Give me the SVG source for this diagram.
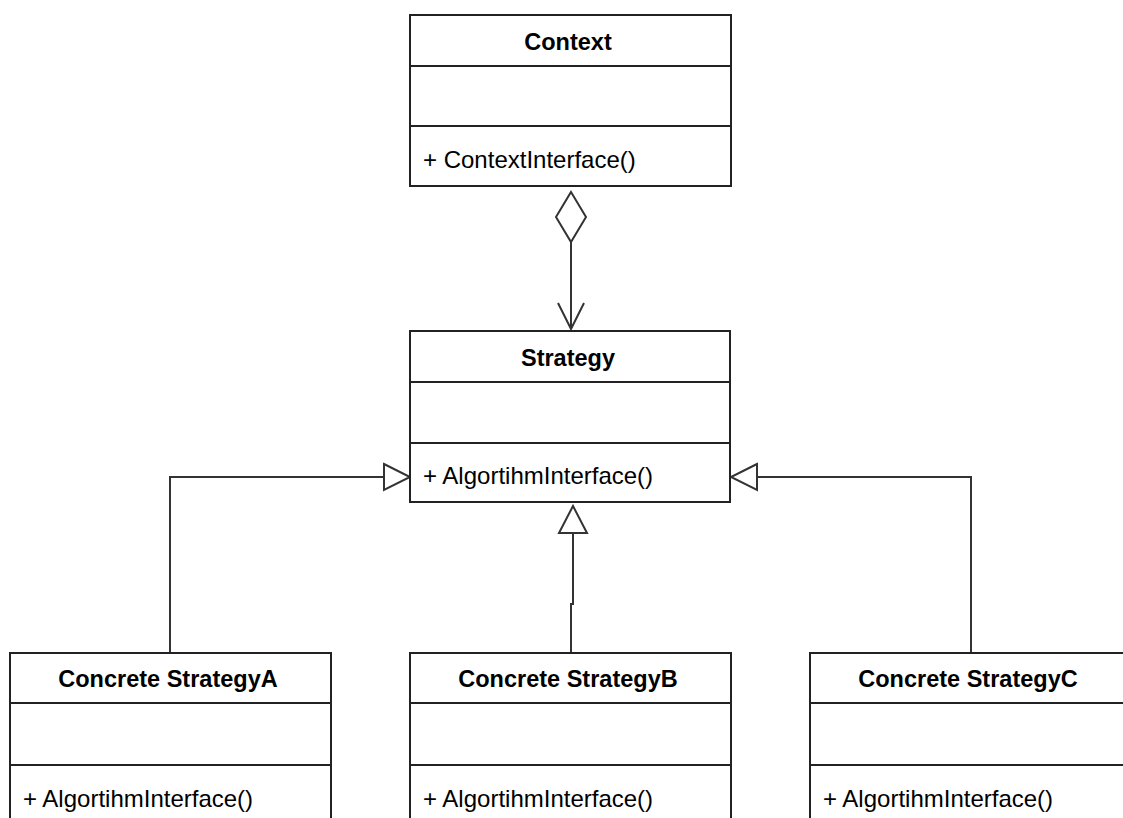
<svg xmlns="http://www.w3.org/2000/svg" width="1123" height="818" viewBox="0 0 1123 818">
<style>
.box{fill:#fff;stroke:#222;stroke-width:2}
.div{stroke:#222;stroke-width:2}
.title{font-family:"Liberation Sans",Arial,sans-serif;font-weight:bold;font-size:23.5px;fill:#000;text-anchor:middle}
.op{font-family:"Liberation Sans",Arial,sans-serif;font-size:24px;fill:#000}
.con{fill:none;stroke:#333;stroke-width:2}
.head{fill:#fff;stroke:#333;stroke-width:2}
</style>
<rect width="1123" height="818" fill="#fff"/>
<g id="connectors">
  <path class="con" d="M571,242 V329"/>
  <path class="head" d="M571,192 L586,217 L571,242 L556,217 Z"/>
  <path class="con" d="M558,303 L571,329 L584,303"/>
  <path class="con" d="M170,653 V477 H384"/>
  <path class="head" d="M384,464 L410,477 L384,490 Z"/>
  <path class="con" d="M971,653 V477 H757"/>
  <path class="head" d="M757,464 L731,477 L757,490 Z"/>
  <path class="con" d="M573,533 V604 H571 V653"/>
  <path class="head" d="M559,533 L573,506 L587,533 Z"/>
</g>
<g id="context">
  <rect class="box" x="410" y="15" width="321" height="171"/>
  <line class="div" x1="410" y1="66" x2="731" y2="66"/>
  <line class="div" x1="410" y1="126" x2="731" y2="126"/>
  <text class="title" x="568" y="50">Context</text>
  <text class="op" x="423" y="168">+ ContextInterface()</text>
</g>
<g id="strategy">
  <rect class="box" x="410" y="331" width="320" height="171"/>
  <line class="div" x1="410" y1="382" x2="730" y2="382"/>
  <line class="div" x1="410" y1="443" x2="730" y2="443"/>
  <text class="title" x="568" y="366">Strategy</text>
  <text class="op" x="423" y="484">+ AlgortihmInterface()</text>
</g>
<g id="concreteA">
  <rect class="box" x="10" y="653" width="321" height="180"/>
  <line class="div" x1="10" y1="703" x2="331" y2="703"/>
  <line class="div" x1="10" y1="765" x2="331" y2="765"/>
  <text class="title" x="168" y="687">Concrete StrategyA</text>
  <text class="op" x="23" y="807">+ AlgortihmInterface()</text>
</g>
<g id="concreteB">
  <rect class="box" x="410" y="653" width="321" height="180"/>
  <line class="div" x1="410" y1="703" x2="731" y2="703"/>
  <line class="div" x1="410" y1="765" x2="731" y2="765"/>
  <text class="title" x="568" y="687">Concrete StrategyB</text>
  <text class="op" x="423" y="807">+ AlgortihmInterface()</text>
</g>
<g id="concreteC">
  <rect class="box" x="810" y="653" width="321" height="180"/>
  <line class="div" x1="810" y1="703" x2="1131" y2="703"/>
  <line class="div" x1="810" y1="765" x2="1131" y2="765"/>
  <text class="title" x="968" y="687">Concrete StrategyC</text>
  <text class="op" x="823" y="807">+ AlgortihmInterface()</text>
</g>
</svg>
